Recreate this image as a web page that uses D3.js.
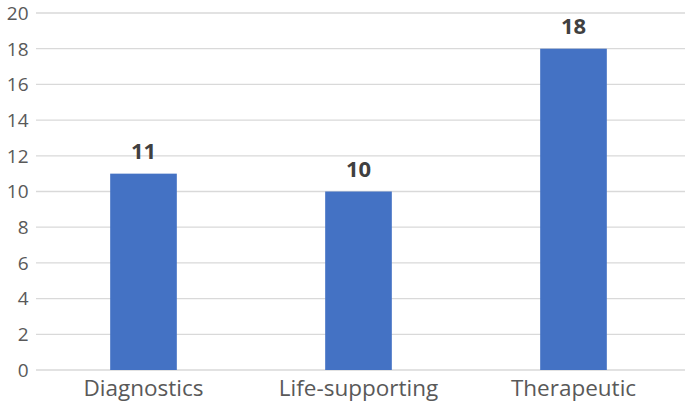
<!DOCTYPE html>
<html>
<head>
<meta charset="utf-8">
<script src="https://cdn.jsdelivr.net/npm/d3@7"></script>
<style>
  body { margin: 0; background: #fff; }
  #chart { width: 685px; height: 405px; }
  text { font-family: "Open Sans", "Liberation Sans", sans-serif; }
</style>
</head>
<body>
<div id="chart"></div>
<script>
const categories = ["Diagnostics", "Life-supporting", "Therapeutic"];
const values = [11, 10, 18];
const yTicks = [0, 2, 4, 6, 8, 10, 12, 14, 16, 18, 20];

const width = 685;
const height = 405;
const margin = { left: 36, right: 4, top: 13, bottom: 35 };

const svg = d3.select("#chart")
  .append("svg")
  .attr("width", width)
  .attr("height", height);

const x = d3.scaleBand()
  .domain(categories)
  .range([margin.left, width - margin.right])
  .paddingInner(0.69)
  .paddingOuter(0.345);

const y = d3.scaleLinear()
  .domain([0, 20])
  .range([height - margin.bottom, margin.top]);

// gridlines
svg.append("g")
  .selectAll("line")
  .data(yTicks)
  .enter()
  .append("line")
    .attr("x1", margin.left)
    .attr("x2", width)
    .attr("y1", (d) => y(d))
    .attr("y2", (d) => y(d))
    .attr("stroke", "#d9d9d9")
    .attr("stroke-width", 1.3);

// y axis labels
svg.append("g")
  .selectAll("text")
  .data(yTicks)
  .enter()
  .append("text")
    .attr("x", 28.5)
    .attr("y", (d) => y(d))
    .attr("dy", "0.36em")
    .attr("text-anchor", "end")
    .attr("font-size", 19)
    .attr("fill", "#595959")
    .text((d) => d);

// bars
svg.append("g")
  .selectAll("rect")
  .data(values)
  .enter()
  .append("rect")
    .attr("x", (d, i) => x(categories[i]))
    .attr("width", x.bandwidth())
    .attr("y", (d) => y(d))
    .attr("height", (d) => y(0) - y(d))
    .attr("fill", "#4472c4");

// data labels
svg.append("g")
  .selectAll("text")
  .data(values)
  .enter()
  .append("text")
    .attr("x", (d, i) => x(categories[i]) + x.bandwidth() / 2)
    .attr("y", (d) => y(d) - 14.5)
    .attr("text-anchor", "middle")
    .attr("font-size", 22)
    .attr("font-weight", "bold")
    .attr("fill", "#404040")
    .text((d) => d);

// x axis labels
svg.append("g")
  .selectAll("text")
  .data(categories)
  .enter()
  .append("text")
    .attr("x", (d) => x(d) + x.bandwidth() / 2)
    .attr("y", y(0) + 25.5)
    .attr("text-anchor", "middle")
    .attr("font-size", 22.5)
    .attr("fill", "#595959")
    .text((d) => d);
</script>
</body>
</html>
